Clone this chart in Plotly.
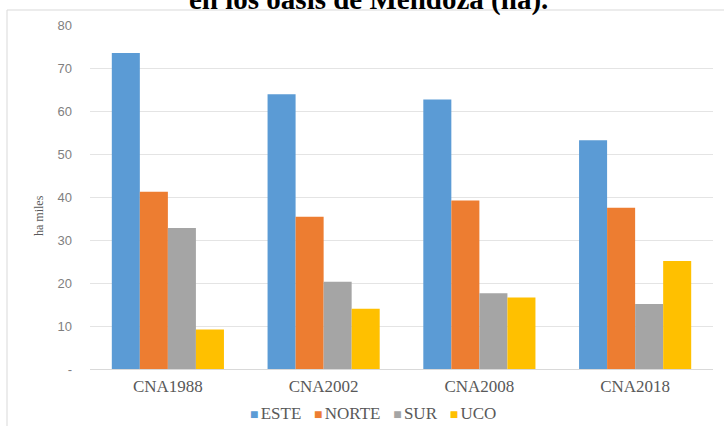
import plotly.graph_objects as go

categories = ["CNA1988", "CNA2002", "CNA2008", "CNA2018"]
series_names = ["ESTE", "NORTE", "SUR", "UCO"]
este = [73.5, 63.9, 62.7, 53.2]
norte = [41.2, 35.4, 39.2, 37.5]
sur = [32.8, 20.3, 17.6, 15.1]
uco = [9.2, 14.0, 16.6, 25.1]
colors = ["#5b9bd5", "#ed7d31", "#a5a5a5", "#ffc000"]
tick_vals = [0, 10, 20, 30, 40, 50, 60, 70, 80]
tick_text = ["-", "10", "20", "30", "40", "50", "60", "70", "80"]

W, H = 724, 426
ml, mr, mt, mb = 90, 11, 25, 57
pw, ph = W - ml - mr, H - mt - mb

fig = go.Figure()
for name, vals, c in zip(series_names, [este, norte, sur, uco], colors):
    fig.add_trace(go.Bar(name=name, x=categories, y=vals, marker=dict(color=c, line=dict(width=0))))

serif = "Liberation Serif, Times New Roman, serif"
sans = "Liberation Sans, Arial, sans-serif"

fig.update_layout(
    width=W, height=H,
    margin=dict(l=ml, r=mr, t=mt, b=mb, autoexpand=False),
    paper_bgcolor="white", plot_bgcolor="white",
    barmode="group", bargap=0.28, bargroupgap=0,
    showlegend=False,
    xaxis=dict(showgrid=False, showline=True, linecolor="#d9d9d9", linewidth=1,
               tickfont=dict(family=serif, size=17, color="#595959"), ticks="",
               ticklabelstandoff=2),
    yaxis=dict(range=[0, 80], tickvals=tick_vals, ticktext=tick_text,
               showgrid=True, gridcolor="#e4e4e4", gridwidth=1, zeroline=False,
               tickfont=dict(family=sans, size=13, color="#7f7f7f"), ticks="",
               ticklabelstandoff=17),
)

# title (partly above the visible page, as in the reference crop)
fig.add_annotation(text="<b>en los oasis de Mendoza (ha).</b>", xref="paper", yref="paper",
                   x=(368 - ml) / pw, y=(H - mb + 1) / ph, xanchor="center", yanchor="middle",
                   showarrow=False, font=dict(family=serif, size=29, color="black"))

# y-axis title
fig.add_annotation(text="ha miles", xref="paper", yref="paper",
                   x=(39 - ml) / pw, y=(H - mb - 216) / ph, xanchor="center", yanchor="middle",
                   textangle=-90, showarrow=False,
                   font=dict(family=serif, size=12, color="#595959"))

# legend built from the series names and colours
sq = '<span style="color:{c};font-size:14px">■</span><span style="font-size:9px">&nbsp;</span>{n}'
sep = "&nbsp;&nbsp;&nbsp;"
legend_text = sep.join(sq.format(c=c, n=n) for n, c in zip(series_names, colors))
fig.add_annotation(text=legend_text, xref="paper", yref="paper",
                   x=(373 - ml) / pw, y=(H - mb - 413) / ph, xanchor="center", yanchor="middle",
                   showarrow=False, font=dict(family=serif, size=17, color="#595959"))

# chart frame (top and left border lines)
fig.add_shape(type="line", xref="paper", yref="paper",
              x0=(7 - ml) / pw, x1=(W - ml) / pw, y0=(H - mb - 10) / ph, y1=(H - mb - 10) / ph,
              line=dict(color="#d9d9d9", width=1))
fig.add_shape(type="line", xref="paper", yref="paper",
              x0=(7 - ml) / pw, x1=(7 - ml) / pw, y0=(H - mb - 10) / ph, y1=(H - mb - H) / ph,
              line=dict(color="#d9d9d9", width=1))

fig.write_html("out.html")
